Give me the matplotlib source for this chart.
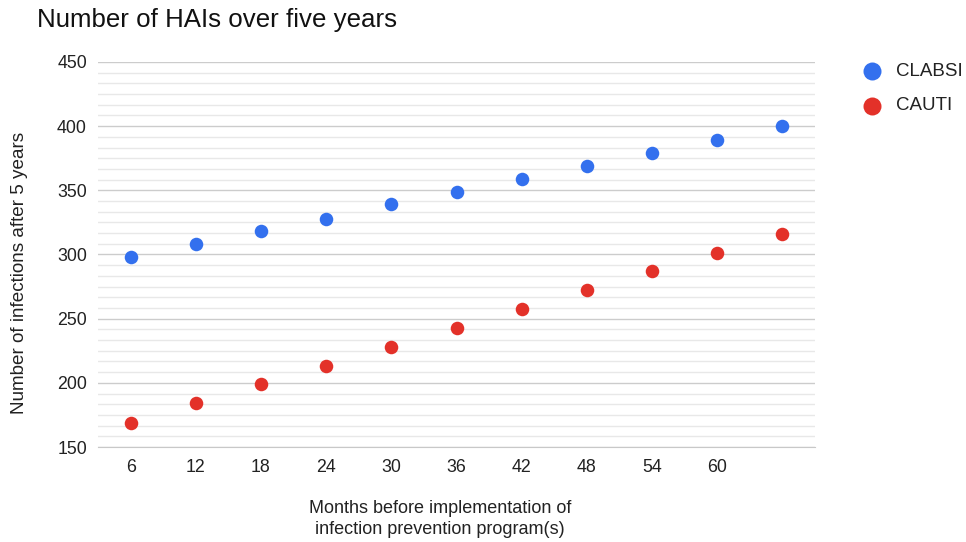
import matplotlib
matplotlib.use("Agg")
import matplotlib.pyplot as plt
from matplotlib.ticker import MultipleLocator

plt.rcParams['font.family'] = ['Liberation Sans', 'DejaVu Sans']

months = ["6", "12", "18", "24", "30", "36", "42", "48", "54", "60", ""]
clabsi = [298, 308, 318, 328, 339, 349, 359, 369, 379, 389, 400]
cauti = [169, 184, 199, 213.5, 228, 243, 257.5, 272, 287, 301.5, 316]

BLUE = "#3370ee"
RED = "#e33129"

fig = plt.figure(figsize=(9.66, 5.42), dpi=100)
ax = fig.add_axes([98 / 966, 1 - 447 / 542, (815 - 98) / 966, (447 - 62) / 542])

x = list(range(len(months)))
ax.scatter(x, clabsi, s=95, color=BLUE, zorder=3, label="CLABSI", linewidths=0)
ax.scatter(x, cauti, s=95, color=RED, zorder=3, label="CAUTI", linewidths=0)

ax.set_xlim(-0.5, len(months) - 0.5)
ax.set_ylim(150, 450)
ax.set_xticks(x)
ax.set_xticklabels(months)
ax.yaxis.set_major_locator(MultipleLocator(50))
ax.yaxis.set_minor_locator(MultipleLocator(50 / 6))

ax.grid(axis='y', which='major', color='#cccccc', linewidth=1.0)
ax.grid(axis='y', which='minor', color='#e8e8e8', linewidth=1.0)
ax.set_axisbelow(True)

for side in ['top', 'right', 'left']:
    ax.spines[side].set_visible(False)
ax.spines['bottom'].set_color('#c8c8c8')

ax.tick_params(axis='both', which='both', length=0, labelsize=12.8, colors='#222222')
ax.tick_params(axis='x', pad=9)
ax.tick_params(axis='y', pad=8)

fig.text(37 / 966, 1 - 20 / 542, "Number of HAIs over five years", fontsize=18.6,
         color='#111111', va='center', ha='left')
fig.text(20 / 966, 1 - 273 / 542, "Number of infections after 5 years", fontsize=13.6,
         rotation=90, va='center', ha='center', color='#222222')
fig.text(440 / 966, 1 - 519 / 542,
         "Months before implementation of\ninfection prevention program(s)",
         fontsize=13, ha='center', va='center', color='#222222', linespacing=1.3)

leg = fig.legend(handles=ax.collections, labels=["CLABSI", "CAUTI"],
                 loc='upper left', bbox_to_anchor=(861 / 966, 1 - 63 / 542),
                 frameon=False, fontsize=13.5, handletextpad=0.67, labelspacing=0.92,
                 markerscale=1.33, borderaxespad=0, borderpad=0, handlelength=1.2)
for t in leg.get_texts():
    t.set_color('#222222')

fig.savefig("out.png", dpi=100)
